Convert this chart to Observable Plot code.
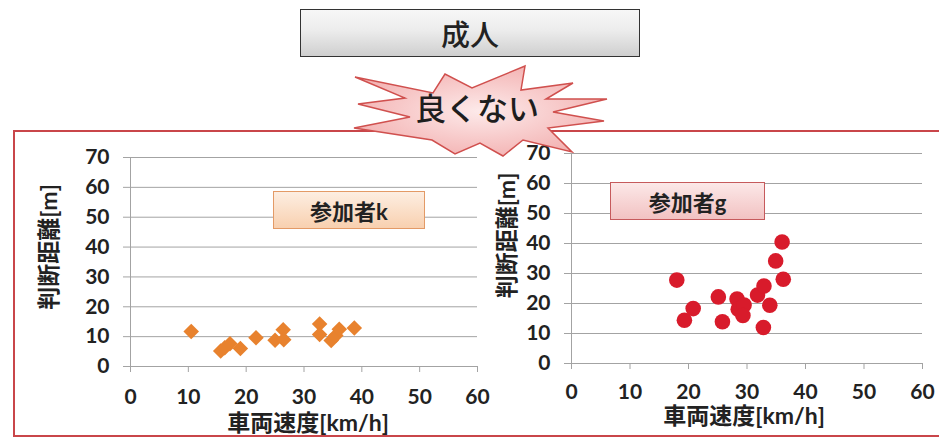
<!DOCTYPE html>
<html>
<head>
<meta charset="utf-8">
<script src="https://cdn.jsdelivr.net/npm/d3@7"></script>
<script src="https://cdn.jsdelivr.net/npm/@observablehq/plot@0.6"></script>
<style>
  html, body { margin: 0; padding: 0; background: #fff; }
  #stage { position: relative; width: 939px; height: 438px; overflow: hidden;
           font-family: Lato, "Noto Sans CJK JP", sans-serif; }
  .abs { position: absolute; box-sizing: border-box; }
  #panel { left: 13px; top: 130px; width: 960px; height: 307px; border: 2px solid #C9464A; background: #fff; }
  #title { left: 300px; top: 9px; width: 340px; height: 48px; border: 1.5px solid #333;
           background: linear-gradient(to bottom, #f7f7f7 0%, #ececec 45%, #cfcfcf 100%);
           display: flex; align-items: center; justify-content: center;
           font-family: "Noto Sans CJK JP", sans-serif; font-size: 29px; font-weight: 500; color: #222; }
  .legend { display: flex; align-items: center; justify-content: center;
            font-family: Lato, "Noto Sans CJK JP", sans-serif; font-size: 22px; font-weight: bold; color: #222; }
  #legK { left: 273px; top: 191px; width: 152px; height: 38px; border: 1px solid #E39A66;
          background: linear-gradient(to bottom, #FDEEE2, #F8D0AF); }
  #legG { left: 610px; top: 182px; width: 155px; height: 38px; border: 1px solid #C65A5C;
          background: linear-gradient(to bottom, #FCE8E8, #F2C2C2); }
  #chartK { left: 16px; top: 133px; }
  #chartG { left: 482px; top: 133px; }
  #burst { left: 0; top: 0; }
</style>
</head>
<body>
<div id="stage">
  <div id="panel" class="abs"></div>
  <div id="title" class="abs">成人</div>
  <div id="chartK" class="abs"></div>
  <div id="chartG" class="abs"></div>
  <svg id="burst" class="abs" width="939" height="438"></svg>
  <div id="legK" class="abs legend">参加者k</div>
  <div id="legG" class="abs legend">参加者g</div>
</div>
<script>
// Participant k: vehicle speed [km/h] and judgement distance [m]
const speedK = [10.5, 15.6, 16.3, 17.2, 19.0, 21.7, 25.0, 26.4, 26.5, 32.7, 32.7, 34.7, 35.5, 36.1, 38.7];
const distK  = [11.7, 5.2, 6.3, 7.6, 6.0, 9.6, 8.8, 12.3, 9.0, 14.2, 10.7, 8.7, 10.4, 12.5, 12.9];

// Participant g
const speedG = [18.0, 19.3, 20.8, 25.1, 25.8, 28.3, 28.5, 29.5, 29.3, 31.8, 32.9, 33.9, 32.8, 34.9, 36.0, 36.2];
const distG  = [27.8, 14.4, 18.3, 22.2, 13.9, 21.5, 18.1, 19.5, 16.0, 22.8, 25.8, 19.4, 12.0, 34.2, 40.5, 28.1];

const xTicks = [0, 10, 20, 30, 40, 50, 60];
const yTicks = [0, 10, 20, 30, 40, 50, 60, 70];
const xLabel = "車両速度[km/h]";
const yLabel = "判断距離[m]";

const gridColor = "#a3a3a3";

function scatter(speeds, dists, o) {
  const data = speeds.map((s, i) => ({speed: s, dist: dists[i]}));
  return Plot.plot({
    width: o.width, height: o.height,
    marginLeft: o.ml, marginRight: o.mr, marginTop: o.mt, marginBottom: o.mb,
    style: {fontFamily: 'Lato, "Noto Sans CJK JP", sans-serif', fontSize: "21px", fontWeight: "bold",
            color: "#222", background: "none", overflow: "visible"},
    x: {domain: [0, 60]},
    y: {domain: [0, 70]},
    marks: [
      Plot.gridY(yTicks, {stroke: gridColor, strokeOpacity: 1, strokeWidth: 1}),
      Plot.axisY(yTicks, {tickSize: 7, tickPadding: 14, stroke: gridColor, label: null}),
      Plot.axisX(xTicks, {tickSize: 6, tickPadding: o.xTickPad, stroke: gridColor, label: null}),
      Plot.ruleX([0], {stroke: gridColor}),
      Plot.ruleY([0], {stroke: gridColor}),
      // axis titles
      Plot.text([yLabel], {frameAnchor: "left", text: d => d, rotate: -90, textAnchor: "middle",
        lineAnchor: "top", fontSize: 23, dx: -o.yLabelOffset, dy: o.yLabelShift}),
      Plot.text([xLabel], {frameAnchor: "bottom", text: d => d, textAnchor: "middle",
        lineAnchor: "bottom", fontSize: 23, dy: o.xLabelOffset, dx: o.xLabelShift}),
      Plot.dot(data, {x: "speed", y: "dist", r: o.r, symbol: o.symbol, fill: o.fill, stroke: "none"})
    ]
  });
}

document.getElementById("chartK").append(scatter(speedK, distK, {
  width: 464, height: 305, ml: 114, mr: 3, mt: 24, mb: 72, xTickPad: 17,
  yLabelOffset: 90, yLabelShift: -15, xLabelOffset: 64, xLabelShift: 4,
  r: 7.0, symbol: "diamond2", fill: "#E8822E"
}));

document.getElementById("chartG").append(scatter(speedG, distG, {
  width: 457, height: 305, ml: 89, mr: 17, mt: 20, mb: 75, xTickPad: 15,
  yLabelOffset: 73, yLabelShift: -23, xLabelOffset: 60, xLabelShift: -3,
  r: 7.8, symbol: "circle", fill: "#D81B2B"
}));

// "良くない" starburst callout
const burst = d3.select("#burst");
const defs = burst.append("defs");
const grad = defs.append("radialGradient").attr("id", "burstFill")
  .attr("cx", "50%").attr("cy", "50%").attr("r", "60%");
grad.append("stop").attr("offset", "0%").attr("stop-color", "#FDEAEA");
grad.append("stop").attr("offset", "100%").attr("stop-color", "#F2ACAC");

const spikes = [
  [355, 77], [433, 93], [445, 74], [472, 88], [525, 66], [521, 90], [573, 83], [546, 99],
  [607, 99], [553, 112], [604, 121], [548, 128], [572, 152], [523, 140], [503, 156], [480, 143],
  [455, 154], [432, 140], [354, 128], [410, 117], [358, 104], [405, 98]
];
burst.append("polygon")
  .attr("points", spikes.map(p => p.join(",")).join(" "))
  .attr("fill", "url(#burstFill)")
  .attr("stroke", "#D0504E").attr("stroke-width", 1.5).attr("stroke-linejoin", "miter");
burst.append("text")
  .attr("x", 477).attr("y", 106)
  .attr("text-anchor", "middle").attr("dominant-baseline", "central")
  .attr("font-family", '"Noto Sans CJK JP", sans-serif')
  .attr("font-size", 31).attr("font-weight", 500).attr("fill", "#1e1e1e")
  .text("良くない");
</script>
</body>
</html>
